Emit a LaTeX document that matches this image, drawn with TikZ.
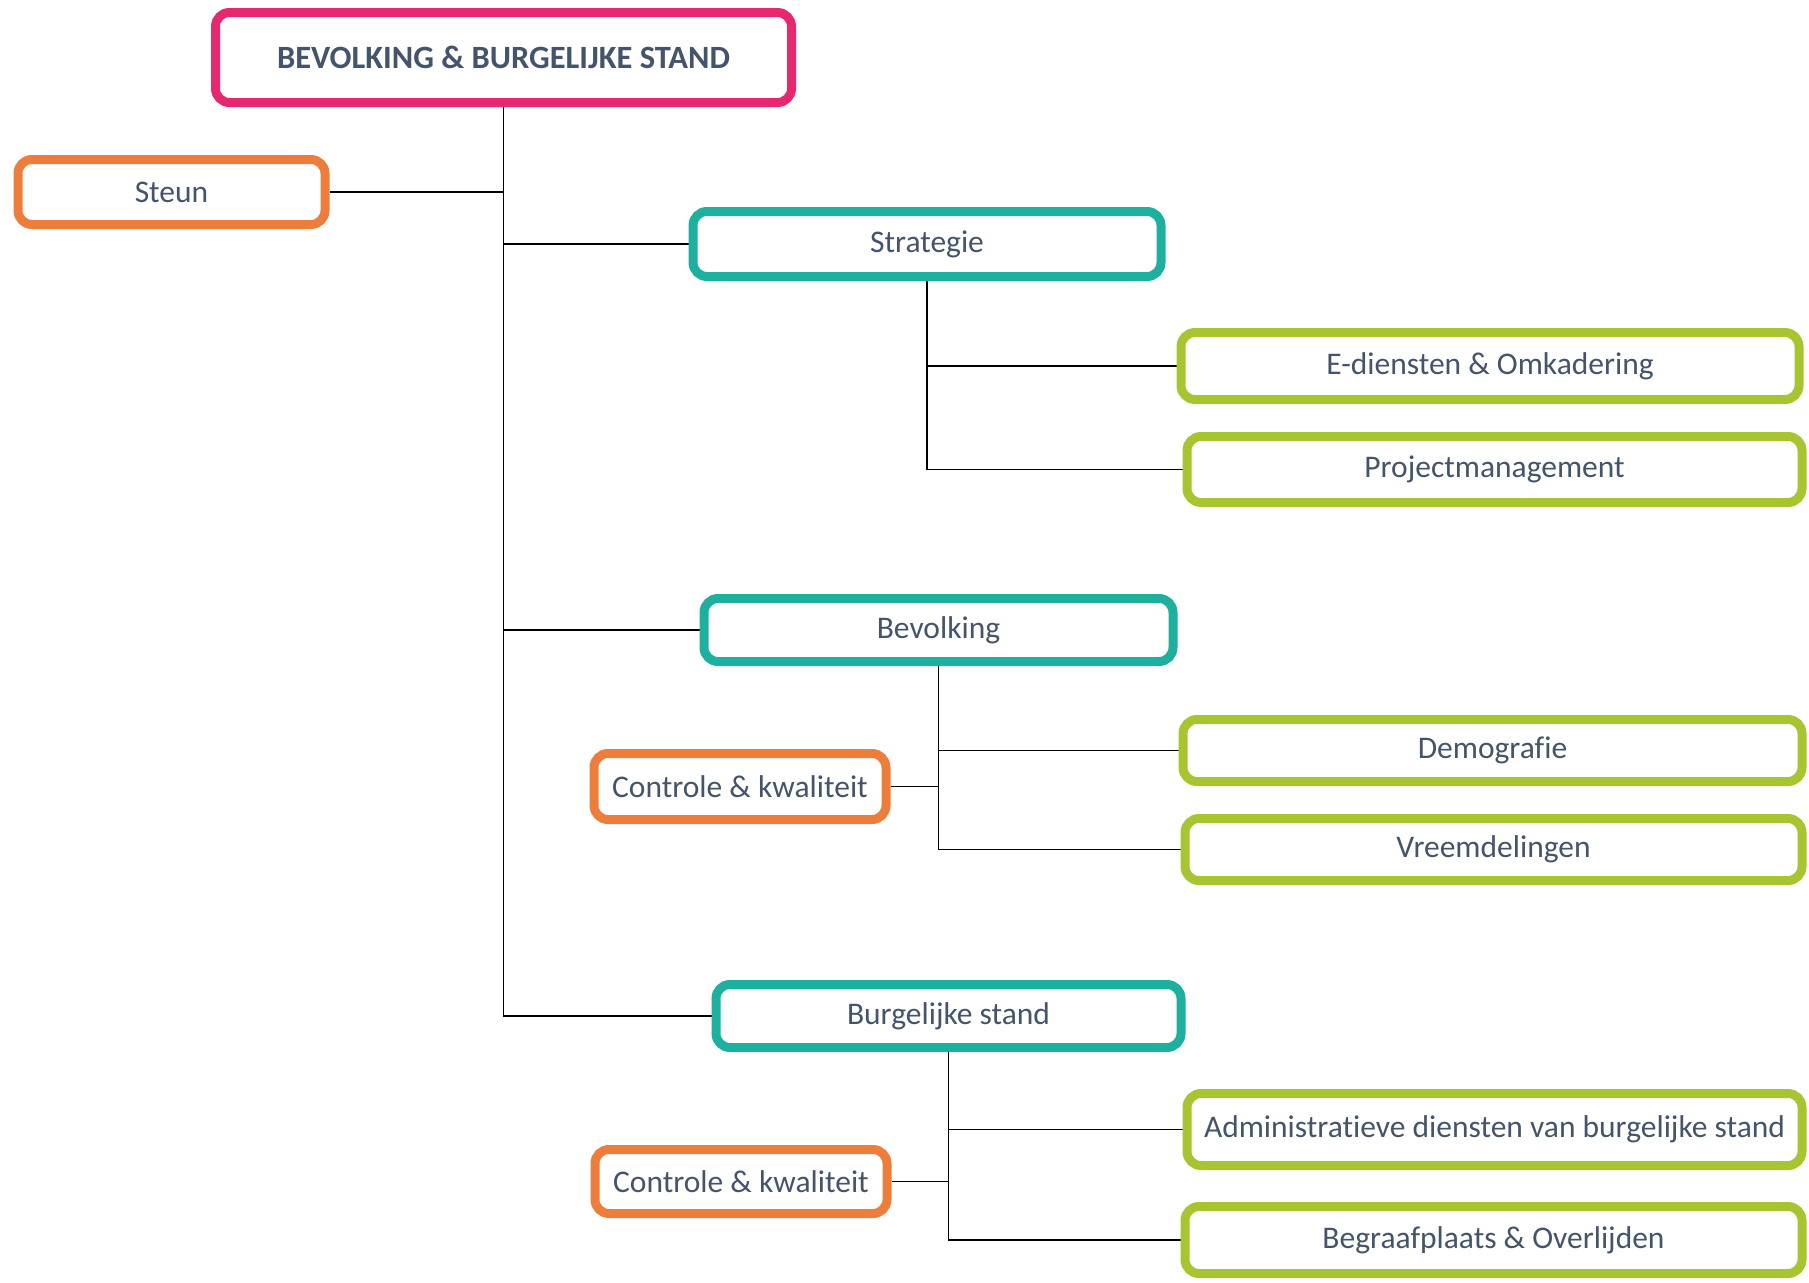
\documentclass[tikz,border=0pt]{standalone}
\usepackage{fontspec}
\setmainfont{Carlito}[Ligatures={NoCommon}]
\usetikzlibrary{backgrounds}
\definecolor{pinkc}{HTML}{E5286F}
\definecolor{orangec}{HTML}{ED7D3A}
\definecolor{tealc}{HTML}{1DB09F}
\definecolor{greenc}{HTML}{A6C530}
\definecolor{textc}{HTML}{44546A}
\tikzset{
  box/.style={draw, line width=9pt, rounded corners=14pt, fill=white, text=textc,
    font=\fontsize{31.5}{37}\selectfont, inner sep=0pt},
  topbox/.style={box, draw=pinkc, font=\fontsize{32.5}{38}\selectfont\bfseries},
  supbox/.style={box, draw=orangec},
  depbox/.style={box, draw=tealc},
  unitbox/.style={box, draw=greenc},
  conn/.style={draw=black, line width=1.5pt}
}
\begin{document}
\begin{tikzpicture}[x=1pt, y=-1pt]
\useasboundingbox (0,0) rectangle (1809,1282);
\node[topbox, minimum width=576pt, minimum height=90pt] (main) at (503.5,57.5) {BEVOLKING \& BURGELIJKE STAND};
\node[supbox, minimum width=307pt, minimum height=65pt] (steun) at (171.5,192) {Steun};
\node[depbox, minimum width=468pt, minimum height=65pt] (strat) at (927,244) {Strategie};
\node[unitbox, minimum width=618pt, minimum height=67pt] (edie) at (1490,366) {E-diensten \& Omkadering};
\node[unitbox, minimum width=615pt, minimum height=66pt] (proj) at (1494.5,469.5) {Projectmanagement};
\node[depbox, minimum width=469pt, minimum height=63pt] (bev) at (938.5,630) {Bevolking};
\node[supbox, minimum width=292pt, minimum height=66pt] (ctrla) at (740,786.5) {Controle \& kwaliteit};
\node[unitbox, minimum width=619pt, minimum height=62pt] (demo) at (1492.5,750.5) {Demografie};
\node[unitbox, minimum width=617pt, minimum height=62pt] (vree) at (1493.5,849.5) {Vreemdelingen};
\node[depbox, minimum width=465pt, minimum height=63pt] (burg) at (948.5,1016) {Burgelijke stand};
\node[supbox, minimum width=292pt, minimum height=64pt] (ctrlb) at (741,1181.5) {Controle \& kwaliteit};
\node[unitbox, minimum width=615pt, minimum height=72pt] (admin) at (1494.5,1129.5) {Administratieve diensten van burgelijke stand};
\node[unitbox, minimum width=617pt, minimum height=67pt] (begr) at (1493.5,1240) {Begraafplaats \& Overlijden};
\begin{scope}[on background layer]
\draw[conn] (main.south) -- (main.south |- burg.west) -- (burg.west);
\draw[conn] (steun.east) -- (steun.east -| main.south);
\draw[conn] (strat.west) -- (strat.west -| main.south);
\draw[conn] (bev.west) -- (bev.west -| main.south);
\draw[conn] (strat.south) -- (strat.south |- proj.west) -- (proj.west);
\draw[conn] (strat.south |- edie.west) -- (edie.west);
\draw[conn] (bev.south) -- (bev.south |- vree.west) -- (vree.west);
\draw[conn] (bev.south |- demo.west) -- (demo.west);
\draw[conn] (ctrla.east) -- (ctrla.east -| bev.south);
\draw[conn] (burg.south) -- (burg.south |- begr.west) -- (begr.west);
\draw[conn] (burg.south |- admin.west) -- (admin.west);
\draw[conn] (ctrlb.east) -- (ctrlb.east -| burg.south);
\end{scope}
\end{tikzpicture}
\end{document}
